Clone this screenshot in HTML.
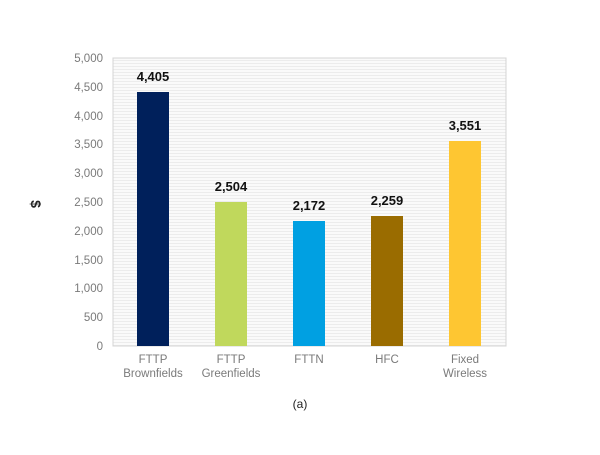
<!DOCTYPE html>
<html><head><style>body{margin:0;background:#fff}</style></head><body>
<svg width="600" height="450" xmlns="http://www.w3.org/2000/svg" font-family="Liberation Sans, Arial, sans-serif">
<defs><pattern id="p" width="4" height="3" patternUnits="userSpaceOnUse"><rect width="4" height="3" fill="#fafafa"/><rect width="4" height="1" fill="#ececec"/></pattern></defs>
<rect x="0" y="0" width="600" height="450" fill="#fff"/>
<rect x="113" y="58" width="393" height="288" fill="url(#p)" stroke="#d4d4d4" stroke-width="1"/>
<g font-size="11.5" fill="#7a7a7a" text-anchor="end">
<text x="103" y="62">5,000</text><text x="103" y="91">4,500</text><text x="103" y="120">4,000</text><text x="103" y="148">3,500</text><text x="103" y="177">3,000</text><text x="103" y="206">2,500</text><text x="103" y="235">2,000</text><text x="103" y="264">1,500</text><text x="103" y="292">1,000</text><text x="103" y="321">500</text><text x="103" y="350">0</text>
</g>
<text x="35" y="208" font-size="14" font-weight="bold" fill="#222" text-anchor="middle" transform="rotate(90 35 204)">$</text>
<rect x="137" y="92" width="32" height="254" fill="#00205b"/>
<rect x="215" y="202" width="32" height="144" fill="#c0d85c"/>
<rect x="293" y="221" width="32" height="125" fill="#00a0e2"/>
<rect x="371" y="216" width="32" height="130" fill="#9a6c00"/>
<rect x="449" y="141" width="32" height="205" fill="#fec632"/>
<g font-size="13" font-weight="bold" fill="#111" text-anchor="middle">
<text x="153" y="81">4,405</text><text x="231" y="191">2,504</text><text x="309" y="210">2,172</text><text x="387" y="205">2,259</text><text x="465" y="130">3,551</text>
</g>
<g font-size="11.5" fill="#7a7a7a" text-anchor="middle">
<text x="153" y="363">FTTP</text><text x="153" y="377">Brownfields</text>
<text x="231" y="363">FTTP</text><text x="231" y="377">Greenfields</text>
<text x="309" y="363">FTTN</text>
<text x="387" y="363">HFC</text>
<text x="465" y="363">Fixed</text><text x="465" y="377">Wireless</text>
</g>
<text x="300" y="408" font-size="12" fill="#222" text-anchor="middle">(a)</text>
</svg>
</body></html>
